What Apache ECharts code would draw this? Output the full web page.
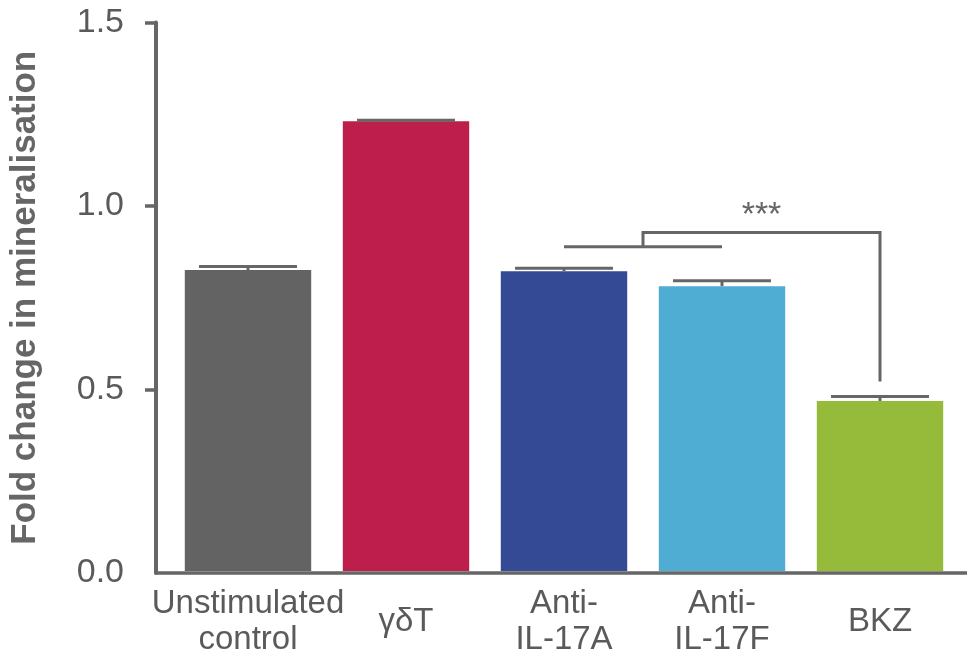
<!DOCTYPE html>
<html>
<head>
<meta charset="utf-8">
<script src="https://cdn.jsdelivr.net/npm/echarts@6/dist/echarts.min.js"></script>
<style>
  html, body { margin: 0; padding: 0; background: #ffffff; }
  #chart { width: 967px; height: 658px; }
</style>
</head>
<body>
<div id="chart"></div>
<script>
// Groups on the category axis
var categories = ['Unstimulated\ncontrol', 'γδT', 'Anti-\nIL-17A', 'Anti-\nIL-17F', 'BKZ'];
// Mean fold change and upper error per group
var foldChange = [0.823, 1.230, 0.820, 0.779, 0.465];
var errorUp = [0.010, 0.003, 0.008, 0.015, 0.012];
var barColors = ['#636363', '#BE1E4B', '#344A94', '#4FACD2', '#96BB3A'];
// Value-axis ticks
var yTicks = [0.5, 1.0, 1.5];
var yLabels = [0, 0.5, 1.0, 1.5];
// Significance bracket: Anti-IL-17A/F pair vs BKZ
var bracketPair = [2, 3];
var bracketTarget = 4;
var bracketLow = 0.887;
var bracketHigh = 0.926;
var bracketEnd = 0.518;
var bracketLabel = '***';

var FONT = '"Liberation Sans", Arial, Helvetica, sans-serif';
var AXIS_GREY = '#666666';
var TEXT_GREY = '#5a5a5a';

var chart = echarts.init(document.getElementById('chart'), null, { renderer: 'canvas' });

var option = {
  backgroundColor: '#ffffff',
  animation: false,
  grid: [
    // plotting area for bars (category bands)
    { left: 169, right: 8, top: 22.5, bottom: 85 },
    // axis frame
    { left: 153, right: 0, top: 22.5, bottom: 85 }
  ],
  xAxis: [
    {
      type: 'category',
      gridIndex: 0,
      data: categories,
      axisLine: { show: false },
      axisTick: { show: false },
      axisLabel: {
        fontFamily: FONT,
        fontSize: 33,
        lineHeight: 36,
        color: TEXT_GREY,
        margin: 51,
        verticalAlign: 'middle',
        interval: 0
      }
    },
    {
      type: 'value',
      gridIndex: 1,
      min: 0,
      max: 1,
      axisLine: { show: true, lineStyle: { color: AXIS_GREY, width: 3.5 } },
      axisTick: { show: false },
      axisLabel: { show: false },
      splitLine: { show: false }
    }
  ],
  yAxis: [
    {
      type: 'value',
      gridIndex: 0,
      min: 0,
      max: 1.5,
      show: false
    },
    {
      type: 'value',
      gridIndex: 1,
      min: 0,
      max: 1.5,
      interval: 0.5,
      name: 'Fold change in mineralisation',
      nameLocation: 'middle',
      nameGap: 113,
      nameTextStyle: {
        fontFamily: FONT,
        fontSize: 35,
        fontWeight: 'bold',
        color: AXIS_GREY
      },
      axisLine: { show: true, lineStyle: { color: AXIS_GREY, width: 4 } },
      axisTick: {
        show: true,
        length: 11,
        lineStyle: { color: AXIS_GREY, width: 3.5 },
        customValues: yTicks
      },
      axisLabel: {
        fontFamily: FONT,
        fontSize: 34,
        color: TEXT_GREY,
        margin: 32,
        customValues: yLabels,
        formatter: function (v) { return v.toFixed(1); }
      },
      splitLine: { show: false }
    }
  ],
  series: [
    {
      type: 'bar',
      xAxisIndex: 0,
      yAxisIndex: 0,
      barWidth: '80%',
      data: foldChange.map(function (v, i) {
        return { value: v, itemStyle: { color: barColors[i] } };
      })
    },
    {
      // upper error bars
      type: 'custom',
      xAxisIndex: 0,
      yAxisIndex: 0,
      clip: false,
      z: 3,
      data: foldChange.map(function (v, i) { return [i, v, errorUp[i]]; }),
      renderItem: function (params, api) {
        var idx = api.value(0);
        var mean = api.value(1);
        var err = api.value(2);
        var base = api.coord([idx, mean]);
        var top = api.coord([idx, mean + err]);
        var half = api.size([1, 0])[0] * 0.31;
        var style = { stroke: AXIS_GREY, lineWidth: 3 };
        return {
          type: 'group',
          children: [
            { type: 'line', shape: { x1: base[0], y1: base[1], x2: top[0], y2: top[1] }, style: style },
            { type: 'line', shape: { x1: top[0] - half, y1: top[1], x2: top[0] + half, y2: top[1] }, style: style }
          ]
        };
      }
    },
    {
      // significance bracket
      type: 'custom',
      xAxisIndex: 0,
      yAxisIndex: 0,
      clip: false,
      z: 3,
      data: [[bracketPair[0], bracketPair[1], bracketTarget]],
      renderItem: function (params, api) {
        var a = api.coord([api.value(0), bracketLow]);
        var b = api.coord([api.value(1), bracketLow]);
        var midX = (a[0] + b[0]) / 2;
        var hi = api.coord([api.value(0), bracketHigh])[1];
        var t = api.coord([api.value(2), bracketHigh]);
        var e = api.coord([api.value(2), bracketEnd]);
        var style = { stroke: AXIS_GREY, lineWidth: 3, fill: null };
        return {
          type: 'group',
          children: [
            { type: 'line', shape: { x1: a[0], y1: a[1], x2: b[0], y2: b[1] }, style: style },
            {
              type: 'polyline',
              shape: { points: [[midX, a[1]], [midX, hi], [t[0], t[1]], [e[0], e[1]]] },
              style: style
            },
            {
              type: 'text',
              x: (midX + t[0]) / 2,
              y: hi - 17,
              style: {
                text: bracketLabel,
                fontFamily: FONT,
                fontSize: 34,
                fill: AXIS_GREY,
                align: 'center',
                verticalAlign: 'middle'
              }
            }
          ]
        };
      }
    }
  ]
};

chart.setOption(option);
</script>
</body>
</html>
